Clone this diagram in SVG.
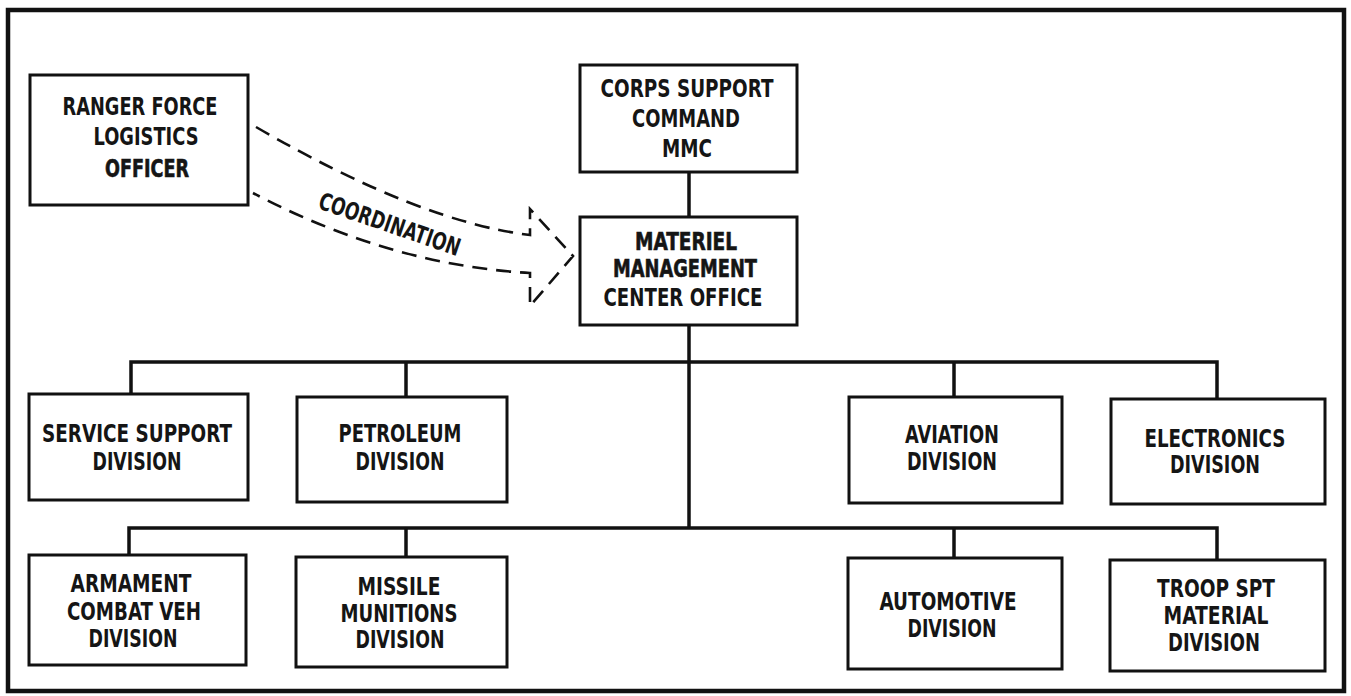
<svg xmlns="http://www.w3.org/2000/svg" width="1351" height="696" viewBox="0 0 1351 696">
<style>
.box{fill:#fff;stroke:#111;stroke-width:3}
.ln{fill:none;stroke:#111;stroke-width:3.5}
.dash{fill:none;stroke:#111;stroke-width:2.6;stroke-dasharray:15 9}
text{font-family:"Liberation Sans Narrow","DejaVu Sans Condensed","Liberation Sans",sans-serif;font-size:24px;font-weight:bold;fill:#151515;text-anchor:middle}
.hv{stroke:#151515;stroke-width:0.6}
</style>
<rect x="8" y="10" width="1336" height="681" fill="#fff" stroke="#111" stroke-width="4.5"/>
<g id="connectors">
<path class="ln" d="M689,172 V217"/>
<path class="ln" d="M689,325 V529"/>
<path class="ln" d="M131,393 V362 H1217 V399"/>
<path class="ln" d="M406,362 V397"/>
<path class="ln" d="M954,362 V397"/>
<path class="ln" d="M129,555 V528 H1217 V560"/>
<path class="ln" d="M406,528 V557"/>
<path class="ln" d="M954,528 V558"/>
<path id="coord" class="dash" d="M256,127 Q420,222 530,235 L530,209 L573,256 L530,306 L530,273 Q390,265 253,193"/>
<text transform="translate(387,232) rotate(19)" textLength="148" lengthAdjust="spacingAndGlyphs" font-size="21">COORDINATION</text>
</g>
<g id="ranger">
<rect class="box" x="30" y="75" width="218" height="130"/>
<text x="140" y="115" textLength="155" lengthAdjust="spacingAndGlyphs">RANGER FORCE</text>
<text x="146" y="145" textLength="105" lengthAdjust="spacingAndGlyphs">LOGISTICS</text>
<text x="147" y="177" textLength="84" lengthAdjust="spacingAndGlyphs" class="hv">OFFICER</text>
</g>
<g id="corps">
<rect class="box" x="580" y="65" width="217" height="107"/>
<text x="687" y="97" textLength="173" lengthAdjust="spacingAndGlyphs">CORPS SUPPORT</text>
<text x="686" y="127" textLength="108" lengthAdjust="spacingAndGlyphs">COMMAND</text>
<text x="687" y="157" textLength="50" lengthAdjust="spacingAndGlyphs">MMC</text>
</g>
<g id="mmc">
<rect class="box" x="580" y="217" width="217" height="108"/>
<text x="686" y="250" font-size="22" textLength="102" lengthAdjust="spacingAndGlyphs" class="hv">MATERIEL</text>
<text x="685" y="277" font-size="22" textLength="144" lengthAdjust="spacingAndGlyphs" class="hv">MANAGEMENT</text>
<text x="683" y="306" textLength="159" lengthAdjust="spacingAndGlyphs">CENTER OFFICE</text>
</g>
<g id="service">
<rect class="box" x="29" y="394" width="219" height="106"/>
<text x="137" y="442" textLength="190" lengthAdjust="spacingAndGlyphs">SERVICE SUPPORT</text>
<text x="137" y="470" textLength="89" lengthAdjust="spacingAndGlyphs">DIVISION</text>
</g>
<g id="petroleum">
<rect class="box" x="297" y="397" width="210" height="105"/>
<text x="400" y="442" textLength="123" lengthAdjust="spacingAndGlyphs">PETROLEUM</text>
<text x="400" y="470" textLength="89" lengthAdjust="spacingAndGlyphs">DIVISION</text>
</g>
<g id="aviation">
<rect class="box" x="849" y="397" width="213" height="106"/>
<text x="952" y="443" textLength="94" lengthAdjust="spacingAndGlyphs">AVIATION</text>
<text x="952" y="470" textLength="90" lengthAdjust="spacingAndGlyphs">DIVISION</text>
</g>
<g id="electronics">
<rect class="box" x="1111" y="399" width="214" height="105"/>
<text x="1215" y="447" textLength="141" lengthAdjust="spacingAndGlyphs">ELECTRONICS</text>
<text x="1215" y="473" textLength="90" lengthAdjust="spacingAndGlyphs">DIVISION</text>
</g>
<g id="armament">
<rect class="box" x="29" y="555" width="217" height="110"/>
<text x="131" y="592" textLength="121" lengthAdjust="spacingAndGlyphs">ARMAMENT</text>
<text x="134" y="620" textLength="134" lengthAdjust="spacingAndGlyphs">COMBAT VEH</text>
<text x="133" y="647" textLength="89" lengthAdjust="spacingAndGlyphs">DIVISION</text>
</g>
<g id="missile">
<rect class="box" x="296" y="557" width="211" height="110"/>
<text x="399" y="595" textLength="83" lengthAdjust="spacingAndGlyphs">MISSILE</text>
<text x="399" y="622" textLength="117" lengthAdjust="spacingAndGlyphs">MUNITIONS</text>
<text x="400" y="648" textLength="89" lengthAdjust="spacingAndGlyphs">DIVISION</text>
</g>
<g id="automotive">
<rect class="box" x="848" y="558" width="214" height="111"/>
<text x="948" y="610" textLength="137" lengthAdjust="spacingAndGlyphs">AUTOMOTIVE</text>
<text x="952" y="637" textLength="89" lengthAdjust="spacingAndGlyphs">DIVISION</text>
</g>
<g id="troop">
<rect class="box" x="1110" y="560" width="215" height="111"/>
<text x="1216" y="597" textLength="118" lengthAdjust="spacingAndGlyphs">TROOP SPT</text>
<text x="1216" y="624" textLength="105" lengthAdjust="spacingAndGlyphs">MATERIAL</text>
<text x="1214" y="651" textLength="92" lengthAdjust="spacingAndGlyphs">DIVISION</text>
</g>
</svg>
